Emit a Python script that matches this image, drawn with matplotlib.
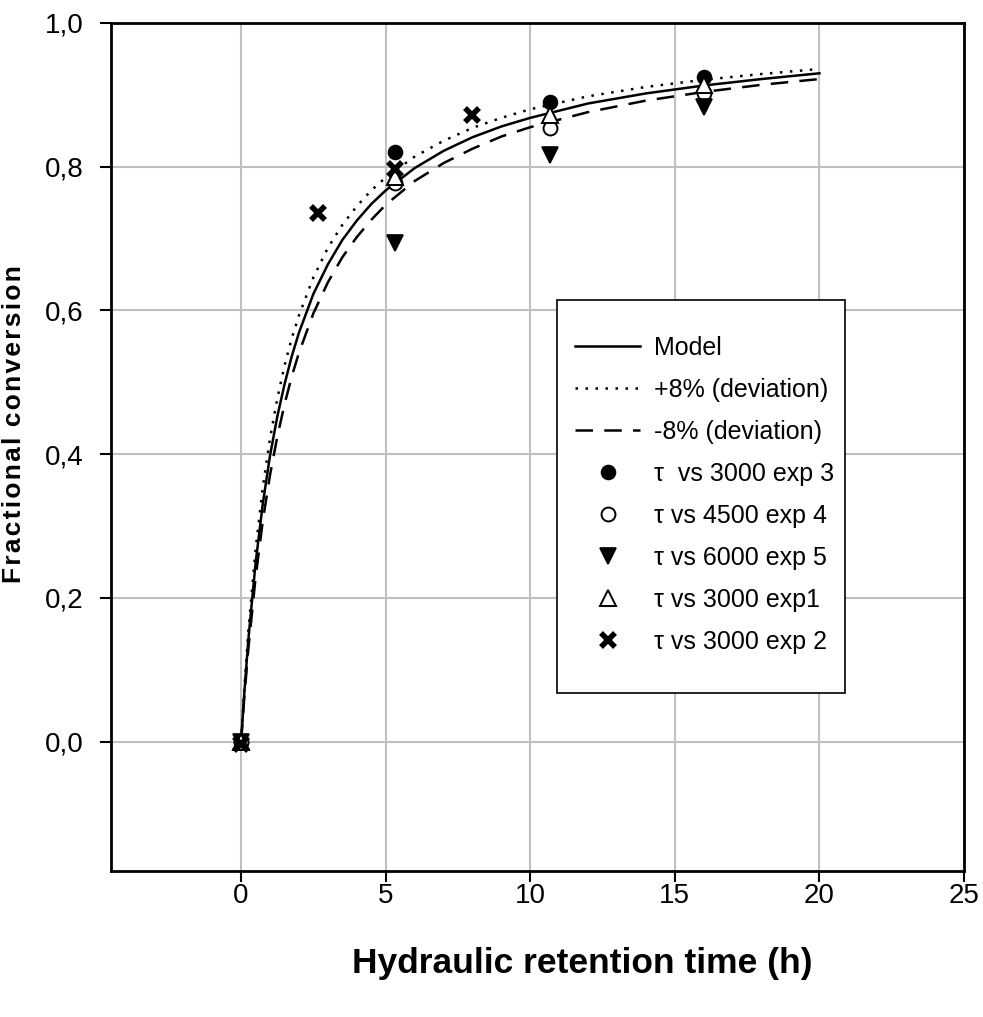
import matplotlib
matplotlib.use("Agg")
import matplotlib.pyplot as plt
from matplotlib import font_manager as fm
from matplotlib.patches import Rectangle

# ---- data ----
t_curve = [0, 0.1, 0.25, 0.5, 0.75, 1, 1.25, 1.5, 1.75, 2, 2.5, 3, 3.5, 4, 4.5, 5, 6, 7, 8,
           9, 10, 12, 14, 16, 18, 20]
model = [0, 0.062, 0.142, 0.248, 0.331, 0.398, 0.452, 0.497, 0.536, 0.569, 0.623, 0.664,
         0.698, 0.725, 0.748, 0.767, 0.798, 0.822, 0.841, 0.856, 0.868, 0.888, 0.902,
         0.913, 0.922, 0.930]
plus8 = [0, 0.068, 0.154, 0.267, 0.354, 0.422, 0.477, 0.523, 0.561, 0.593, 0.646, 0.687,
         0.719, 0.745, 0.767, 0.785, 0.814, 0.836, 0.854, 0.868, 0.880, 0.898, 0.911,
         0.921, 0.929, 0.936]
minus8 = [0, 0.056, 0.129, 0.228, 0.307, 0.371, 0.424, 0.469, 0.508, 0.541, 0.596, 0.639,
          0.674, 0.702, 0.726, 0.747, 0.780, 0.805, 0.825, 0.842, 0.855, 0.876, 0.892,
          0.904, 0.914, 0.922]

t_exp3 = [0, 5.33, 10.67, 16]
y_exp3 = [0.0, 0.821, 0.890, 0.925]
t_exp4 = [0, 5.33, 10.67, 16]
y_exp4 = [0.0, 0.777, 0.854, 0.903]
t_exp5 = [0, 5.33, 10.67, 16]
y_exp5 = [0.0, 0.694, 0.816, 0.883]
t_exp1 = [0, 5.33, 10.67, 16]
y_exp1 = [0.0, 0.786, 0.872, 0.914]
t_exp2 = [0, 2.67, 5.33, 8]
y_exp2 = [-0.003, 0.735, 0.797, 0.872]

xticks = [0, 5, 10, 15, 20, 25]
yticks = [0.0, 0.2, 0.4, 0.6, 0.8, 1.0]

# ---- fonts ----
def pick(names):
    for n in names:
        try:
            fm.findfont(fm.FontProperties(family=n), fallback_to_default=False)
            return n
        except Exception:
            pass
    return "DejaVu Sans"

narrow = pick(["Liberation Sans Narrow", "Liberation Sans", "Arial"])
plt.rcParams['font.family'] = [narrow, 'DejaVu Sans']

fig = plt.figure(figsize=(9.83, 10.17), dpi=100)
ax = fig.add_axes([0.1129, 0.1436, 0.8678, 0.8338])

ax.plot(t_curve, model, color='black', lw=1.8, ls='-', label='Model', zorder=3)
ax.plot(t_curve, plus8, color='black', lw=1.8, ls=(0, (1, 3)), label='+8% (deviation)', zorder=3)
ax.plot(t_curve, minus8, color='black', lw=1.8, ls=(0, (7, 4.5)), label='-8% (deviation)', zorder=3)

ax.plot(t_exp3, y_exp3, ls='none', marker='o', ms=10, mfc='black', mec='black', mew=1.2,
        label='τ  vs 3000 exp 3', zorder=4)
ax.plot(t_exp4, y_exp4, ls='none', marker='o', ms=10, mfc='white', mec='black', mew=1.4,
        label='τ vs 4500 exp 4', zorder=4)
ax.plot(t_exp5, y_exp5, ls='none', marker='v', ms=12, mfc='black', mec='black', mew=1.2,
        label='τ vs 6000 exp 5', zorder=4)
ax.plot(t_exp1, y_exp1, ls='none', marker='^', ms=12, mfc='white', mec='black', mew=1.4,
        label='τ vs 3000 exp1', zorder=4)
ax.plot(t_exp2, y_exp2, ls='none', marker='x', ms=10, mfc='black', mec='black', mew=4,
        label='τ vs 3000 exp 2', zorder=4)

ax.set_xlim(-4.5, 25)
ax.set_ylim(-0.18, 1.0)
ax.set_xticks(xticks)
ax.set_xticklabels([str(v) for v in xticks])
ax.set_yticks(yticks)
ax.set_yticklabels([f"{v:.1f}".replace('.', ',') for v in yticks])

ax.grid(True, color='#c0c0c0', lw=1.5, zorder=0)
ax.set_axisbelow(True)
for s in ax.spines.values():
    s.set_color('black')
    s.set_linewidth(2)

ax.tick_params(axis='both', which='major', direction='out', length=8, width=1.5,
               labelsize=20, colors='black')
ax.tick_params(axis='y', pad=12)
ax.tick_params(axis='x', pad=1)

ax.set_xlabel('Hydraulic retention time (h)', fontsize=25.5, fontweight='bold')
ax.xaxis.set_label_coords(0.552, -0.09)
ylab = '\u200a'.join('Fractional') + '\u2009\u2009' + '\u200a'.join('conversion')
ax.set_ylabel(ylab, fontsize=19, fontweight='bold')
ax.yaxis.set_label_coords(-0.100, 0.527)

# legend frame drawn as a box in axes coordinates
box = Rectangle((0.523, 0.210), 0.338, 0.463, transform=ax.transAxes, facecolor='white',
                edgecolor='black', lw=1.2, zorder=5)
ax.add_patch(box)
leg = ax.legend(loc='upper left', bbox_to_anchor=(0.544, 0.631), fontsize=18,
                frameon=False, borderpad=0, labelspacing=0.72, handlelength=2.6,
                handletextpad=0.55, borderaxespad=0)
leg.set_zorder(6)

fig.savefig('out.png', dpi=100)
